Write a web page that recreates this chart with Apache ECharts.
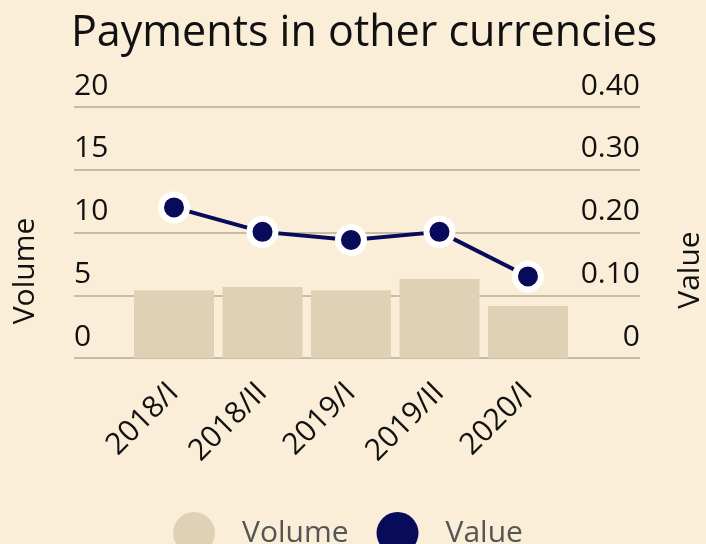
<!DOCTYPE html>
<html>
<head>
<meta charset="utf-8">
<title>Payments in other currencies</title>
<script src="https://cdn.jsdelivr.net/npm/echarts@6/dist/echarts.min.js"></script>
<style>
  html, body { margin: 0; padding: 0; background: #faeed9; }
  #main { width: 706px; height: 544px; }
</style>
</head>
<body>
<div id="main"></div>
<script>
// data
var categories = ['2018/I', '2018/II', '2019/I', '2019/II', '2020/I'];
var volume = [5.4, 5.65, 5.4, 6.3, 4.15];
var value = [0.24, 0.201, 0.188, 0.201, 0.13];
var volumeTicks = [0, 20, 5];   // min, max, step
var valueTicks = [0, 0.4, 0.1];

window.onload = function () {
  var myChart = echarts.init(document.getElementById('main'));
  var font = 'Open Sans';
  var idx = categories.map(function (c, i) { return i; });

  var option = {
    backgroundColor: '#faeed9',
    textStyle: { fontFamily: font },
    title: {
      text: 'Payments in other currencies',
      left: 66,
      top: 7,
      textStyle: { fontFamily: font, fontSize: 43, fontWeight: 'normal', color: '#111' }
    },
    legend: {
      data: ['Volume', 'Value'],
      icon: 'circle',
      left: 168,
      top: 507,
      itemWidth: 42,
      itemHeight: 42,
      itemGap: 28,
      itemStyle: { borderWidth: 0 },
      textStyle: { fontFamily: font, fontSize: 30, color: '#555', padding: [0, 0, 0, 22] }
    },
    grid: { left: 74, right: 66, top: 107, bottom: 186, containLabel: false },
    // value x axis so the grid lines can run wider than the bars
    xAxis: {
      type: 'value',
      min: -1.13,
      max: 5.266,
      axisLine: { show: false },
      axisTick: { show: false },
      splitLine: { show: false },
      axisLabel: {
        customValues: idx,
        rotate: 45,
        margin: 30,
        fontSize: 30,
        color: '#111',
        formatter: function (v) { return categories[Math.round(v)]; }
      }
    },
    yAxis: [{
      type: 'value',
      min: volumeTicks[0], max: volumeTicks[1], interval: volumeTicks[2],
      axisLine: { show: false },
      axisTick: { show: false },
      axisLabel: {
        inside: true, margin: 0, fontSize: 30, color: '#111',
        verticalAlign: 'bottom', padding: [0, 0, 6, 0]
      },
      splitLine: { lineStyle: { color: '#c8bca8', width: 2 } }
    }, {
      type: 'value',
      min: valueTicks[0], max: valueTicks[1], interval: valueTicks[2],
      axisLine: { show: false },
      axisTick: { show: false },
      splitLine: { show: false },
      axisLabel: {
        inside: true, margin: 0, fontSize: 30, color: '#111',
        verticalAlign: 'bottom', padding: [0, 0, 6, 0],
        formatter: function (v) { return v === 0 ? '0' : v.toFixed(2); }
      }
    }],
    graphic: [{
      type: 'text', x: 25, y: 271, rotation: Math.PI / 2,
      style: { text: 'Volume', font: '30px "Open Sans"', fill: '#111', align: 'center', verticalAlign: 'middle' }
    }, {
      type: 'text', x: 690, y: 270, rotation: Math.PI / 2,
      style: { text: 'Value', font: '30px "Open Sans"', fill: '#111', align: 'center', verticalAlign: 'middle' }
    }],
    series: [{
      name: 'Volume',
      type: 'bar',
      barWidth: 80,
      data: volume.map(function (v, i) { return [i, v]; }),
      itemStyle: { color: '#e0d1b6' },
      z: 2
    }, {
      name: 'Value',
      type: 'line',
      yAxisIndex: 1,
      data: value.map(function (v, i) { return [i, v]; }),
      symbol: 'circle',
      symbolSize: 26,
      lineStyle: { color: '#080a5a', width: 4 },
      itemStyle: { color: '#080a5a', borderColor: '#ffffff', borderWidth: 6 },
      z: 3
    }]
  };
  myChart.setOption(option);
};
</script>
</body>
</html>
